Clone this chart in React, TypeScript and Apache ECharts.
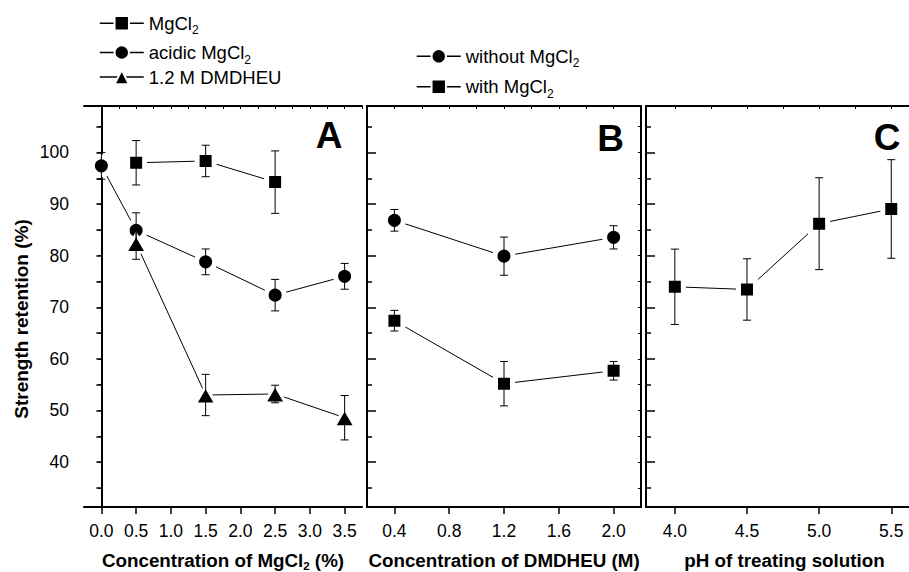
import React, { useEffect, useRef } from "react";
import * as echarts from "echarts";

// ---------- data ----------
// Panel A: concentration of MgCl2 (%)
const aMgX = [0.5, 1.5, 2.5];
const aMgY = [98.0, 98.35, 94.25];
const aMgErr = [4.3, 3.05, 6.05];

const aAcidX = [0.0, 0.5, 1.5, 2.5, 3.5];
const aAcidY = [97.4, 84.9, 78.8, 72.35, 76.0];
const aAcidErr = [2.6, 3.4, 2.5, 3.05, 2.5];

const aDmX = [0.5, 1.5, 2.5, 3.5];
const aDmY = [82.4, 53.0, 53.2, 48.6];
const aDmErr = [3.1, 4.0, 1.7, 4.3];

// Panel B: concentration of DMDHEU (M)
const bX = [0.4, 1.2, 2.0];
const bWithoutY = [86.85, 79.9, 83.55];
const bWithoutErr = [2.1, 3.7, 2.25];
const bWithY = [67.4, 55.2, 57.7];
const bWithErr = [2.0, 4.3, 1.8];

// Panel C: pH of treating solution
const cX = [4.0, 4.5, 5.0, 5.5];
const cY = [73.97, 73.45, 86.2, 89.05];
const cErr = [7.3, 5.95, 8.9, 9.55];

// tick labels
const yLabels = [40, 50, 60, 70, 80, 90, 100];
const yTicks = [35, 40, 45, 50, 55, 60, 65, 70, 75, 80, 85, 90, 95, 100, 105];
const yMinor = [35, 45, 55, 65, 75, 85, 95, 105];
const aLabels = [0.0, 0.5, 1.0, 1.5, 2.0, 2.5, 3.0, 3.5];
const aTopTicks = [0, 0.25, 0.5, 0.75, 1.0, 1.25, 1.5, 1.75, 2.0, 2.25, 2.5, 2.75, 3.0, 3.25, 3.5, 3.75];
const bLabels = [0.4, 0.8, 1.2, 1.6, 2.0];
const bTopTicks = [0.4, 0.6, 0.8, 1.0, 1.2, 1.4, 1.6, 1.8, 2.0];
const cLabels = [4.0, 4.5, 5.0, 5.5];
const cTopTicks = [4.0, 4.25, 4.5, 4.75, 5.0, 5.25, 5.5];

// legend entries
const legendNames = ["MgCl2", "acidic MgCl2", "1.2 M DMDHEU", "without MgCl2", "with MgCl2"];

const FONT = "'Liberation Sans', Arial, Helvetica, sans-serif";
const Y_MIN = 31.3;
const Y_MAX = 109;

const pts = (xs: number[], ys: number[]) => xs.map((x, i) => [x, ys[i]]);
const errs = (xs: number[], ys: number[], es: number[]) =>
  xs.map((x, i) => [x, ys[i] - es[i], ys[i] + es[i]]);

function subName(name: string) {
  const i = name.indexOf("MgCl2");
  if (i < 0) return `{m|${name}}`;
  return `{m|${name.slice(0, i + 4)}}{s|2}`;
}

export default function App() {
  const ref = useRef<HTMLDivElement>(null);

  useEffect(() => {
    if (!ref.current) return;
    const chart = echarts.init(ref.current, undefined, { renderer: "svg" });

    const axLine = { show: true, lineStyle: { color: "#000", width: 2 } };
    const labelStyle = { color: "#000", fontFamily: FONT, fontSize: 17.5 };

    const bottomX = (grid: number, min: number, max: number, labels: number[], name: string, rich?: any) => ({
      type: "value",
      gridIndex: grid,
      position: "bottom",
      min,
      max,
      axisLine: axLine,
      splitLine: { show: false },
      axisTick: { show: true, inside: false, length: 7, customValues: labels, lineStyle: { color: "#000", width: 1.5 } },
      axisLabel: { ...labelStyle, margin: 14.5, customValues: labels, formatter: (v: number) => v.toFixed(1) },
      name,
      nameLocation: "middle",
      nameGap: 43.5,
      nameTextStyle: { color: "#000", fontFamily: FONT, fontSize: 18.8, fontWeight: "bold", rich },
    });
    const topX = (grid: number, min: number, max: number, ticks: number[]) => ({
      type: "value",
      gridIndex: grid,
      position: "top",
      min,
      max,
      axisLine: axLine,
      splitLine: { show: false },
      axisTick: { show: true, inside: true, length: 3, customValues: ticks, lineStyle: { color: "#000", width: 1 } },
      axisLabel: { show: false },
    });
    const leftYMajor = (grid: number, inside: boolean, len: number, ticks: number[], showLabel: boolean) => ({
      type: "value",
      gridIndex: grid,
      position: "left",
      min: Y_MIN,
      max: Y_MAX,
      axisLine: axLine,
      splitLine: { show: false },
      axisTick: { show: true, inside, length: len, customValues: ticks, lineStyle: { color: "#000", width: 1.5 } },
      axisLabel: { show: showLabel, ...labelStyle, margin: 15, customValues: yLabels },
    });
    const leftYMinor = (grid: number) => ({
      type: "value",
      gridIndex: grid,
      position: "left",
      min: Y_MIN,
      max: Y_MAX,
      axisLine: { show: false },
      splitLine: { show: false },
      axisTick: { show: true, inside: true, length: 5, customValues: yMinor, lineStyle: { color: "#000", width: 1.5 } },
      axisLabel: { show: false },
    });
    const rightY = (grid: number) => ({
      type: "value",
      gridIndex: grid,
      position: "right",
      min: Y_MIN,
      max: Y_MAX,
      axisLine: axLine,
      splitLine: { show: false },
      axisTick: { show: true, inside: true, length: 3, customValues: yTicks, lineStyle: { color: "#000", width: 1 } },
      axisLabel: { show: false },
    });

    const boldRich = {
      b: { fontFamily: FONT, fontSize: 18.8, fontWeight: "bold", color: "#000", lineHeight: 20 },
      bs: { fontFamily: FONT, fontSize: 11.5, fontWeight: "bold", color: "#000", lineHeight: 20, padding: [10, 0, 0, 0] },
    };

    const lineSeries = (name: string, xi: number, yi: number, data: number[][], symbol: string, size: any, bw: number) => ({
      type: "line",
      name,
      xAxisIndex: xi,
      yAxisIndex: yi,
      data,
      symbol,
      symbolSize: size,
      showAllSymbol: true,
      lineStyle: { color: "#000", width: 1 },
      itemStyle: { color: "#000", borderColor: "#fff", borderWidth: bw },
      emphasis: { disabled: true },
      z: 2,
    });

    const errSeries = (xi: number, yi: number, data: number[][]) => ({
      type: "custom",
      xAxisIndex: xi,
      yAxisIndex: yi,
      data,
      encode: { x: 0, y: [1, 2] },
      z: 3,
      silent: true,
      renderItem: (_p: any, api: any) => {
        const x = api.value(0);
        const top = api.coord([x, api.value(2)]);
        const bot = api.coord([x, api.value(1)]);
        const hw = 4;
        const st = { stroke: "#000", lineWidth: 1 };
        return {
          type: "group",
          children: [
            { type: "line", shape: { x1: top[0], y1: top[1], x2: bot[0], y2: bot[1] }, style: st },
            { type: "line", shape: { x1: top[0] - hw, y1: top[1], x2: top[0] + hw, y2: top[1] }, style: st },
            { type: "line", shape: { x1: bot[0] - hw, y1: bot[1], x2: bot[0] + hw, y2: bot[1] }, style: st },
          ],
        };
      },
    });

    const legendText = {
      color: "#000",
      fontFamily: FONT,
      fontSize: 18.5,
      rich: {
        m: { fontFamily: FONT, fontSize: 18.5, color: "#000", lineHeight: 20 },
        s: { fontFamily: FONT, fontSize: 12, color: "#000", lineHeight: 20, padding: [14, 0, 0, 0] },
      },
    };
    // one legend box per entry so each row sits where the reference has it
    const legendPos: [number, number][] = [
      [99, 10.3],
      [99, 39.5],
      [99, 67.5],
      [416, 43.3],
      [416, 73.7],
    ];
    const legends = legendNames.map((n, i) => ({
      left: legendPos[i][0],
      top: legendPos[i][1],
      padding: 0,
      orient: "vertical",
      itemWidth: 44,
      itemHeight: 18,
      data: [n],
      formatter: subName,
      textStyle: legendText,
      lineStyle: { width: 1.5 },
      selectedMode: false,
    }));

    const letter = (t: string, x: number, y: number) => ({
      type: "text",
      x,
      y,
      style: { text: t, font: `bold 37px ${FONT}`, fill: "#000", align: "center", verticalAlign: "middle" },
    });

    const gridBase = { containLabel: false, outerBoundsMode: "none" };

    chart.setOption({
      animation: false,
      backgroundColor: "#fff",
      grid: [
        { ...gridBase, left: 84, top: 106, width: 278, height: 401 },
        { ...gridBase, left: 367, top: 106, width: 274, height: 401 },
        { ...gridBase, left: 646, top: 106, width: 277, height: 401 },
      ],
      xAxis: [
        bottomX(0, -0.25, 3.75, aLabels, "{b|Concentration of MgCl}{bs|2}{b| (%)}", boldRich),
        topX(0, -0.25, 3.75, aTopTicks),
        bottomX(1, 0.2, 2.2, bLabels, "Concentration of DMDHEU (M)"),
        topX(1, 0.2, 2.2, bTopTicks),
        bottomX(2, 3.8, 5.72, cLabels, "pH of treating solution"),
        topX(2, 3.8, 5.72, cTopTicks),
      ],
      yAxis: [
        leftYMajor(0, false, 5, yTicks, true),
        rightY(0),
        leftYMajor(1, true, 9, yLabels, false),
        leftYMinor(1),
        rightY(1),
        leftYMajor(2, true, 9, yLabels, false),
        leftYMinor(2),
        rightY(2),
      ],
      legend: legends,
      graphic: [
        letter("A", 329, 135),
        letter("B", 610.5, 138),
        letter("C", 887, 137),
        {
          type: "text",
          x: 21,
          y: 319,
          rotation: Math.PI / 2,
          style: {
            text: "Strength retention (%)",
            font: `bold 19px ${FONT}`,
            fill: "#000",
            align: "center",
            verticalAlign: "middle",
          },
        },
      ],
      series: [
        lineSeries("MgCl2", 0, 0, pts(aMgX, aMgY), "rect", 17, 5),
        lineSeries("acidic MgCl2", 0, 0, pts(aAcidX, aAcidY), "circle", 18, 5),
        lineSeries("1.2 M DMDHEU", 0, 0, pts(aDmX, aDmY), "triangle", [21, 18], 3),
        errSeries(0, 0, errs(aMgX, aMgY, aMgErr)),
        errSeries(0, 0, errs(aAcidX, aAcidY, aAcidErr)),
        errSeries(0, 0, errs(aDmX, aDmY, aDmErr)),
        lineSeries("without MgCl2", 2, 2, pts(bX, bWithoutY), "circle", 18, 5),
        lineSeries("with MgCl2", 2, 2, pts(bX, bWithY), "rect", 17, 5),
        errSeries(2, 2, errs(bX, bWithoutY, bWithoutErr)),
        errSeries(2, 2, errs(bX, bWithY, bWithErr)),
        lineSeries("pH", 4, 5, pts(cX, cY), "rect", 17, 5),
        errSeries(4, 5, errs(cX, cY, cErr)),
      ],
    });

    return () => chart.dispose();
  }, []);

  return (
    <div
      ref={ref}
      style={{ position: "absolute", left: 0, top: 0, width: 909, height: 572, background: "#fff" }}
    />
  );
}
